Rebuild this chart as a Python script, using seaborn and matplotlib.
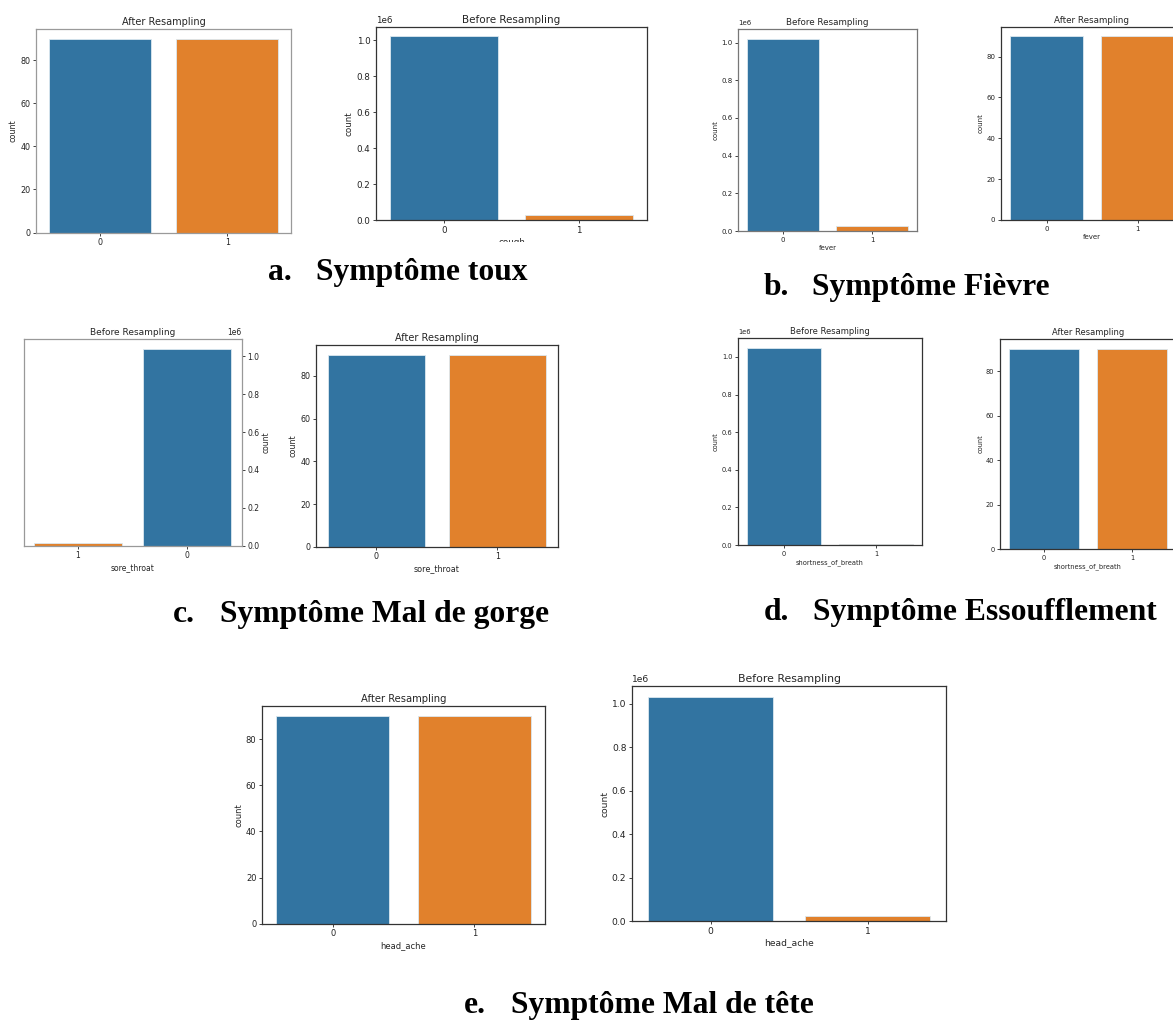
import matplotlib
matplotlib.use("Agg")
import matplotlib.pyplot as plt
import seaborn as sns
from matplotlib.patches import Rectangle

sns.set_theme(style="white")
plt.rcParams["font.family"] = ["DejaVu Sans"]

# Class labels of every binary symptom column
classes = ["0", "1"]

# Class counts before and after resampling, per symptom
cough_before = [1022000, 29000]
cough_after = [90, 90]
fever_before = [1021000, 28000]
fever_after = [90, 90]
sore_throat_before = [1040000, 12000]
sore_throat_after = [90, 90]
breath_before = [1048000, 6000]
breath_after = [90, 90]
head_ache_before = [1030000, 21500]
head_ache_after = [90, 90]

base_colors = ["#1f77b4", "#ff7f0e"]

W, H = 1173, 1021
fig = plt.figure(figsize=(W / 100, H / 100), dpi=100)
fig.patch.set_facecolor("white")


def add_box(left, top, right, bottom):
    return fig.add_axes([left / W, 1 - bottom / H, (right - left) / W, (bottom - top) / H])


def count_panel(box, values, title, xlabel, fs_title, fs_tick, spine="#333333", mirrored=False):
    ax = add_box(*box)
    sns.barplot(x=classes, y=values, hue=classes, palette=base_colors,
                saturation=0.75, legend=False, ax=ax,
                edgecolor="#dbe8f0", linewidth=0.6)
    ax.set_title(title, fontsize=fs_title, pad=3)
    ax.set_ylabel("count", fontsize=fs_tick, labelpad=2)
    ax.set_xlabel(xlabel, fontsize=fs_tick, labelpad=2)
    ax.tick_params(axis="both", labelsize=fs_tick, length=2.5, width=0.6,
                   pad=1.5, colors="#222222", left=True, bottom=True)
    ax.yaxis.get_offset_text().set_fontsize(fs_tick)
    for s in ax.spines.values():
        s.set_color(spine)
        s.set_linewidth(0.9)
    if mirrored:
        ax.invert_xaxis()
        ax.yaxis.tick_right()
        ax.yaxis.set_label_position("right")
        ax.tick_params(axis="y", right=True, left=False)
    return ax


# a. cough (the left strip is trimmed right below its tick labels)
count_panel((36, 29, 291, 232.5), cough_after, "After Resampling", "", 7, 5.8, spine="#9a9a9a")
count_panel((376, 27.3, 647, 220.3), cough_before, "Before Resampling", "cough", 7.5, 6.3)
# b. fever
count_panel((738, 29, 917, 231), fever_before, "Before Resampling", "fever", 6.3, 5.0, spine="#777777")
count_panel((1001, 27, 1183, 220), fever_after, "After Resampling", "fever", 6.3, 5.0)
# c. sore throat
count_panel((23.5, 339, 241.5, 545.7), sore_throat_before, "Before Resampling", "sore_throat",
            6.5, 5.5, spine="#999999", mirrored=True)
count_panel((315.7, 345, 557.7, 546.7), sore_throat_after, "After Resampling", "sore_throat", 7, 5.8)
# d. shortness of breath
count_panel((738, 338, 922, 545), breath_before, "Before Resampling", "shortness_of_breath", 6.0, 4.8)
count_panel((1000, 339, 1176, 549), breath_after, "After Resampling", "shortness_of_breath", 6.0, 4.8)
# e. head ache
count_panel((262, 705.7, 545, 923.7), head_ache_after, "After Resampling", "head_ache", 7.2, 6.0)
count_panel((632, 686, 946, 921), head_ache_before, "Before Resampling", "head_ache", 7.8, 6.6)

# the "cough" axis title is cut off halfway by the strip's lower edge
fig.patches.append(Rectangle((330 / W, 1 - 256 / H), 370 / W, 14 / H, transform=fig.transFigure,
                             facecolor="white", edgecolor="none", zorder=10))

# sub-figure captions
captions = [
    ("a.", "Symptôme toux", 267.8, 315.7, 280),
    ("b.", "Symptôme Fièvre", 764, 811.7, 295),
    ("c.", "Symptôme Mal de gorge", 172.7, 220, 621.7),
    ("d.", "Symptôme Essoufflement", 764, 812.7, 620),
    ("e.", "Symptôme Mal de tête", 463.5, 511, 1013.3),
]
for letter, text, xl, xt, yb in captions:
    for s, x in ((letter, xl), (text, xt)):
        fig.text(x / W, 1 - yb / H, s, ha="left", va="baseline", zorder=20,
                 fontsize=22.8, fontweight="bold", family="Liberation Serif", color="black")

fig.savefig("out.png", dpi=100, facecolor="white")
